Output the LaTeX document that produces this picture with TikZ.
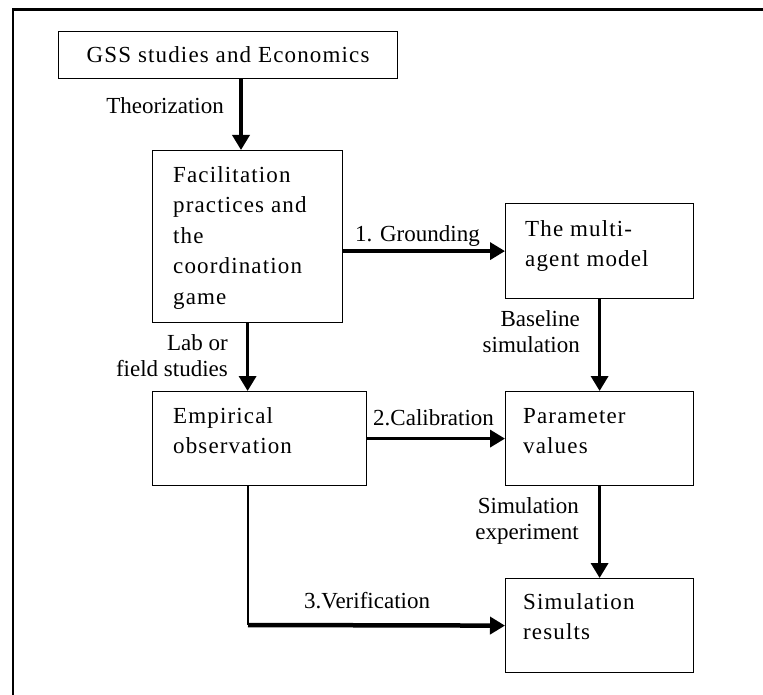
\documentclass[tikz,border=0pt]{standalone}
\usepackage{fontspec}
\setmainfont{Liberation Serif}
\newfontfamily\boxfont[LetterSpace=5]{Liberation Serif}
\usetikzlibrary{arrows.meta}
\begin{document}
\begin{tikzpicture}[x=1pt,y=-1pt,
  box/.style={draw, line width=1.2pt, inner sep=0pt, anchor=north west},
  boxtext/.style={inner sep=0pt, anchor=north west, align=left, font={\boxfont\fontsize{23}{30.5}\selectfont}},
  lab/.style={inner sep=0pt, font={\fontsize{23}{26.5}\selectfont}},
  arr/.style={line width=3.5pt, -{Triangle[length=15pt,width=17pt]}},
  thinline/.style={line width=1.3pt},
  frame/.style={line width=2.8pt}]
\useasboundingbox (0,0) rectangle (763,695);
% outer frame (cropped)
\coordinate (ftl) at (13,9.5);
\coordinate (ftr) at (763,9.5);
\coordinate (fbl) at (13,695);
\draw[frame] (ftr) -- (ftl) -- (fbl);
% boxes
\node[box, minimum width=339pt, minimum height=47pt, font={\boxfont\fontsize{23}{30.5}\selectfont}] (gss) at (58,31) {GSS studies and Economics};
\node[box, minimum width=190pt, minimum height=172pt] (fac) at (152,150) {};
\node[box, minimum width=188pt, minimum height=95pt] (mam) at (505,203) {};
\node[box, minimum width=214pt, minimum height=94pt] (emp) at (152,391) {};
\node[box, minimum width=188pt, minimum height=94pt] (par) at (505,391) {};
\node[box, minimum width=188pt, minimum height=94pt] (res) at (505,578) {};
% box texts
\node[boxtext] (factext) at (173,166) {Facilitation\\practices and\\the\\coordination\\game};
\node[boxtext] (mamtext) at (525,220) {The multi-\\agent model};
\node[boxtext] (emptext) at (173,407) {Empirical\\observation};
\node[boxtext] (partext) at (523,408) {Parameter\\values};
\node[boxtext] (restext) at (523,593) {Simulation\\results};
% connectors
\coordinate (tx) at (241,0);
\draw[arr] (tx |- gss.south) -- (tx |- fac.north);
\draw[arr] (fac.south) -- (fac.south |- emp.north);
\draw[arr] (mam.west -| fac.east) -- (mam.west);
\draw[arr] (mam.south) -- (par.north);
\draw[arr] (emp.east) -- (par.west);
\draw[arr] (par.south) -- (res.north);
\coordinate (vx) at (248,625);
\draw[thinline] (vx |- emp.south) -- (vx);
\draw[line width=4.5pt, -{Triangle[length=15pt,width=17pt]}] (vx) -- (res.west);
% labels
\node[lab, anchor=base east] (ltheo) at (224,114) {Theorization};
\node[lab, anchor=base west] (lground) at (355,241) {1. Grounding};
\node[lab, anchor=north east, align=right] (llab) at (228,334) {Lab or\\field studies};
\node[lab, anchor=north east, align=right] (lbase) at (580,310) {Baseline\\simulation};
\node[lab, anchor=base west] (lcal) at (373,425) {2.Calibration};
\node[lab, anchor=north east, align=right] (lsim) at (579,497) {Simulation\\experiment};
\node[lab, anchor=base west] (lver) at (304,608) {3.Verification};
\end{tikzpicture}
\end{document}
